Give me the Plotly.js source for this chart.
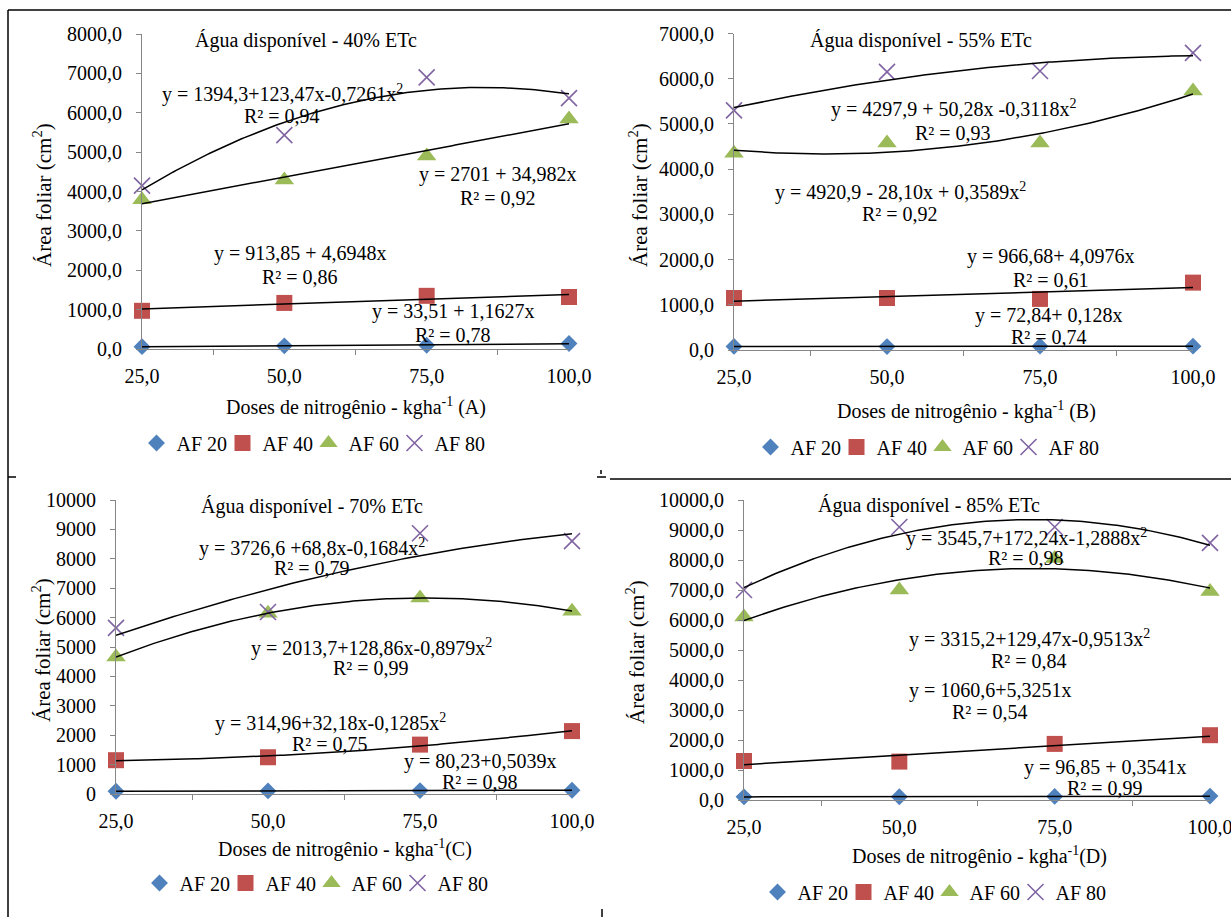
<!DOCTYPE html>
<html>
<head>
<meta charset="utf-8">
<script src="https://cdn.plot.ly/plotly-3.0.1.min.js"></script>
<style>html,body{margin:0;padding:0;background:#fff;}#chart{width:1231px;height:917px;}</style>
</head>
<body>
<div id="chart"></div>
<script>
// ---------- DATA ----------
const doses = [25, 50, 75, 100];
const seriesNames = ['AF 20', 'AF 40', 'AF 60', 'AF 80'];

// Panel A - 40% ETc
const af20A = [60, 80, 95, 140];
const af40A = [970, 1170, 1350, 1320];
const af60A = [3790, 4290, 4900, 5840];
const af80A = [4150, 5430, 6900, 6370];
// Panel B - 55% ETc
const af20B = [80, 75, 85, 85];
const af40B = [1150, 1150, 1130, 1490];
const af60B = [4350, 4580, 4580, 5730];
const af80B = [5300, 6150, 6170, 6570];
// Panel C - 70% ETc
const af20C = [95, 105, 115, 130];
const af40C = [1150, 1250, 1680, 2140];
const af60C = [4660, 6150, 6670, 6220];
const af80C = [5650, 6190, 8870, 8600];
// Panel D - 85% ETc
const af20D = [105, 110, 120, 130];
const af40D = [1300, 1280, 1870, 2160];
const af60D = [6100, 7000, 8050, 6950];
const af80D = [7000, 9100, 9100, 8570];

// trend-line order (1 = linear, 2 = quadratic) per panel and series
const fitA = [1, 1, 1, 2];
const fitB = [1, 1, 2, 2];
const fitC = [1, 2, 2, 2];
const fitD = [1, 1, 2, 2];

const panelTitles = ['Água disponível - 40% ETc', 'Água disponível - 55% ETc', 'Água disponível - 70% ETc', 'Água disponível - 85% ETc'];
const xTitles = ['Doses de nitrogênio - kgha<sup>-1</sup> (A)', 'Doses de nitrogênio - kgha<sup>-1</sup> (B)', 'Doses de nitrogênio - kgha<sup>-1</sup>(C)', 'Doses de nitrogênio - kgha<sup>-1</sup>(D)'];
const yTitle = 'Área foliar (cm<sup>2</sup>)';

const eqA = [['y = 1394,3+123,47x-0,7261x<sup>2</sup>', 'R² = 0,94'], ['y = 2701 + 34,982x', 'R² = 0,92'], ['y = 913,85 + 4,6948x', 'R² = 0,86'], ['y = 33,51 + 1,1627x', 'R² = 0,78']];
const eqB = [['y = 4297,9 + 50,28x -0,3118x<sup>2</sup>', 'R² = 0,93'], ['y = 4920,9 - 28,10x + 0,3589x<sup>2</sup>', 'R² = 0,92'], ['y = 966,68+ 4,0976x', 'R² = 0,61'], ['y = 72,84+ 0,128x', 'R² = 0,74']];
const eqC = [['y = 3726,6 +68,8x-0,1684x<sup>2</sup>', 'R² = 0,79'], ['y = 2013,7+128,86x-0,8979x<sup>2</sup>', 'R² = 0,99'], ['y = 314,96+32,18x-0,1285x<sup>2</sup>', 'R² = 0,75'], ['y = 80,23+0,5039x', 'R² = 0,98']];
const eqD = [['y = 3545,7+172,24x-1,2888x<sup>2</sup>', 'R² = 0,98'], ['y = 3315,2+129,47x-0,9513x<sup>2</sup>', 'R² = 0,84'], ['y = 1060,6+5,3251x', 'R² = 0,54'], ['y = 96,85 + 0,3541x', 'R² = 0,99']];

// ---------- STYLE / LAYOUT ----------
const W = 1231, H = 917;
const PX = x => x / W;
const PY = y => 1 - y / H;
const FONT = 'Liberation Serif';
const FS = 20;
const TFS = 20;
const GRAY = '#868686';

const markerStyles = [
  {symbol: 'diamond', size: 13, color: '#4F81BD'},
  {symbol: 'square', size: 16, color: '#C0504D'},
  {symbol: 'triangle-up', size: 17, color: '#9BBB59'},
  {symbol: 'x-thin', size: 16, color: '#8064A2', line: {color: '#8064A2', width: 1.6}}
];

const panels = [
  {sfx: '', data: [af20A, af40A, af60A, af80A], fit: fitA, eq: eqA, x0: 142, x1: 569, yb: 349, yt: 34, ymax: 8000, yfmt: '.1f',
   title: [306, 41], xt: [356, 406], yt2: [42, 195], leg: [314, 443],
   eqPos: [[282, 93, 116], [498, 174, 198], [300, 253, 277], [453, 311, 335]]},
  {sfx: '2', data: [af20B, af40B, af60B, af80B], fit: fitB, eq: eqB, x0: 734, x1: 1193, yb: 350, yt: 33.5, ymax: 7000, yfmt: '.1f',
   title: [921, 41], xt: [966, 410], yt2: [638, 195], leg: [928, 447],
   eqPos: [[953, 108, 133], [900, 192, 214], [1051, 257, 280], [1049, 315, 337]]},
  {sfx: '3', data: [af20C, af40C, af60C, af80C], fit: fitC, eq: eqC, x0: 116, x1: 572, yb: 794, yt: 500, ymax: 10000, yfmt: 'd',
   title: [312, 506], xt: [345, 848], yt2: [41, 650], leg: [317, 883],
   eqPos: [[312, 547, 568], [371, 647, 668], [330, 722, 744], [480, 761, 782]]},
  {sfx: '4', data: [af20D, af40D, af60D, af80D], fit: fitD, eq: eqD, x0: 744, x1: 1210, yb: 800, yt: 500, ymax: 10000, yfmt: '.1f',
   title: [929, 505], xt: [979, 855], yt2: [635, 652], leg: [935, 892],
   eqPos: [[1026, 537, 558], [1029, 638, 661], [990, 690, 712], [1105, 767, 788]]}
];

// least-squares polynomial fit (Excel-style trendline)
function polyfit(xs, ys, deg) {
  const n = deg + 1;
  const A = [], b = [];
  for (let i = 0; i < n; i++) {
    A.push([]);
    for (let j = 0; j < n; j++) A[i].push(xs.reduce((s, x) => s + Math.pow(x, i + j), 0));
    b.push(xs.reduce((s, x, k) => s + ys[k] * Math.pow(x, i), 0));
  }
  for (let c = 0; c < n; c++) {
    let p = c;
    for (let r = c + 1; r < n; r++) if (Math.abs(A[r][c]) > Math.abs(A[p][c])) p = r;
    [A[c], A[p]] = [A[p], A[c]]; [b[c], b[p]] = [b[p], b[c]];
    for (let r = 0; r < n; r++) {
      if (r === c) continue;
      const f = A[r][c] / A[c][c];
      for (let k = c; k < n; k++) A[r][k] -= f * A[c][k];
      b[r] -= f * b[c];
    }
  }
  return b.map((v, i) => v / A[i][i]);
}

const traces = [];
const annotations = [];
const layout = {
  width: W, height: H,
  margin: {l: 0, r: 0, t: 0, b: 0},
  paper_bgcolor: '#ffffff', plot_bgcolor: 'rgba(0,0,0,0)',
  separators: ',.',
  font: {family: FONT, size: FS, color: '#000'},
  showlegend: true,
  hovermode: false,
  shapes: [],
  annotations: annotations
};

const mids = doses.slice(1).map((d, i) => (d + doses[i]) / 2);

panels.forEach((p, pi) => {
  const xa = 'x' + p.sfx, ya = 'y' + p.sfx;
  const legName = 'legend' + p.sfx;
  // markers
  p.data.forEach((vals, si) => {
    const ms = markerStyles[si];
    traces.push({
      type: 'scatter', mode: 'markers', name: seriesNames[si],
      x: doses, y: vals, xaxis: xa, yaxis: ya, legend: legName,
      legendwidth: si === p.data.length - 1 ? 52 : 41,
      cliponaxis: false,
      marker: Object.assign({line: {width: 0}}, ms)
    });
  });
  // trend lines on top
  p.data.forEach((vals, si) => {
    const coef = polyfit(doses, vals, p.fit[si]);
    const xs = [], ys = [];
    for (let x = doses[0]; x <= doses[doses.length - 1] + 1e-9; x += 0.5) {
      xs.push(x);
      ys.push(coef.reduce((s, c, k) => s + c * Math.pow(x, k), 0));
    }
    traces.push({
      type: 'scatter', mode: 'lines', x: xs, y: ys, xaxis: xa, yaxis: ya,
      showlegend: false, hoverinfo: 'skip', cliponaxis: false,
      line: {color: '#000', width: 1.5}
    });
  });

  layout['xaxis' + p.sfx] = {
    domain: [PX(p.x0), PX(p.x1)], anchor: ya, range: [doses[0], doses[doses.length - 1]],
    tickvals: doses, tickformat: '.1f', ticks: '', showline: true, linecolor: GRAY, linewidth: 1,
    showgrid: false, zeroline: false, fixedrange: true, ticklabelstandoff: 9,
    ticklabeloverflow: 'allow',
    tickfont: {family: FONT, size: TFS, color: '#000'},
    minor: {tickvals: mids, ticks: 'outside', ticklen: 5, tickcolor: GRAY, tickwidth: 1, showgrid: false}
  };
  layout['yaxis' + p.sfx] = {
    domain: [PY(p.yb), PY(p.yt)], anchor: xa, range: [0, p.ymax], dtick: 1000, tick0: 0,
    tickformat: p.yfmt, ticks: 'outside', ticklen: 5, tickcolor: GRAY, tickwidth: 1,
    showline: true, linecolor: GRAY, linewidth: 1, showgrid: false, zeroline: false, fixedrange: true,
    ticklabelstandoff: 10, ticklabeloverflow: 'allow',
    tickfont: {family: FONT, size: TFS, color: '#000'}
  };
  layout[legName] = {
    orientation: 'h', x: PX(p.leg[0]), y: PY(p.leg[1]), xanchor: 'center', yanchor: 'middle',
    bgcolor: 'rgba(0,0,0,0)', borderwidth: 0, entrywidthmode: 'pixels',
    font: {family: FONT, size: FS, color: '#000'}
  };

  const ann = (text, x, y, extra) => annotations.push(Object.assign({
    text: text, xref: 'paper', yref: 'paper', x: PX(x), y: PY(y), xanchor: 'center', yanchor: 'middle',
    showarrow: false, font: {family: FONT, size: FS, color: '#000'}
  }, extra || {}));

  ann(panelTitles[pi], p.title[0], p.title[1]);
  ann(xTitles[pi], p.xt[0], p.xt[1]);
  ann(yTitle, p.yt2[0], p.yt2[1], {textangle: -90, font: {family: FONT, size: 21, color: '#000'}});
  p.eq.forEach((lines, k) => {
    const pos = p.eqPos[k];
    ann(lines[0], pos[0], pos[1]);
    ann(lines[1], pos[0], pos[2]);
  });
});

// frame lines of the pasted figure
const seg = (x0, y0, x1, y1) => layout.shapes.push({type: 'line', xref: 'paper', yref: 'paper',
  x0: PX(x0), y0: PY(y0), x1: PX(x1), y1: PY(y1), line: {color: '#000', width: 1.5}});
seg(8, 10, 1231, 10);
seg(8, 10, 8, 917);
seg(8, 477, 16, 477);
seg(597, 477, 606, 477);
seg(601, 470, 601, 474);
seg(610, 479, 1231, 479);
seg(602, 909, 602, 917);

Plotly.newPlot('chart', traces, layout, {staticPlot: true, displayModeBar: false});
</script>
</body>
</html>
